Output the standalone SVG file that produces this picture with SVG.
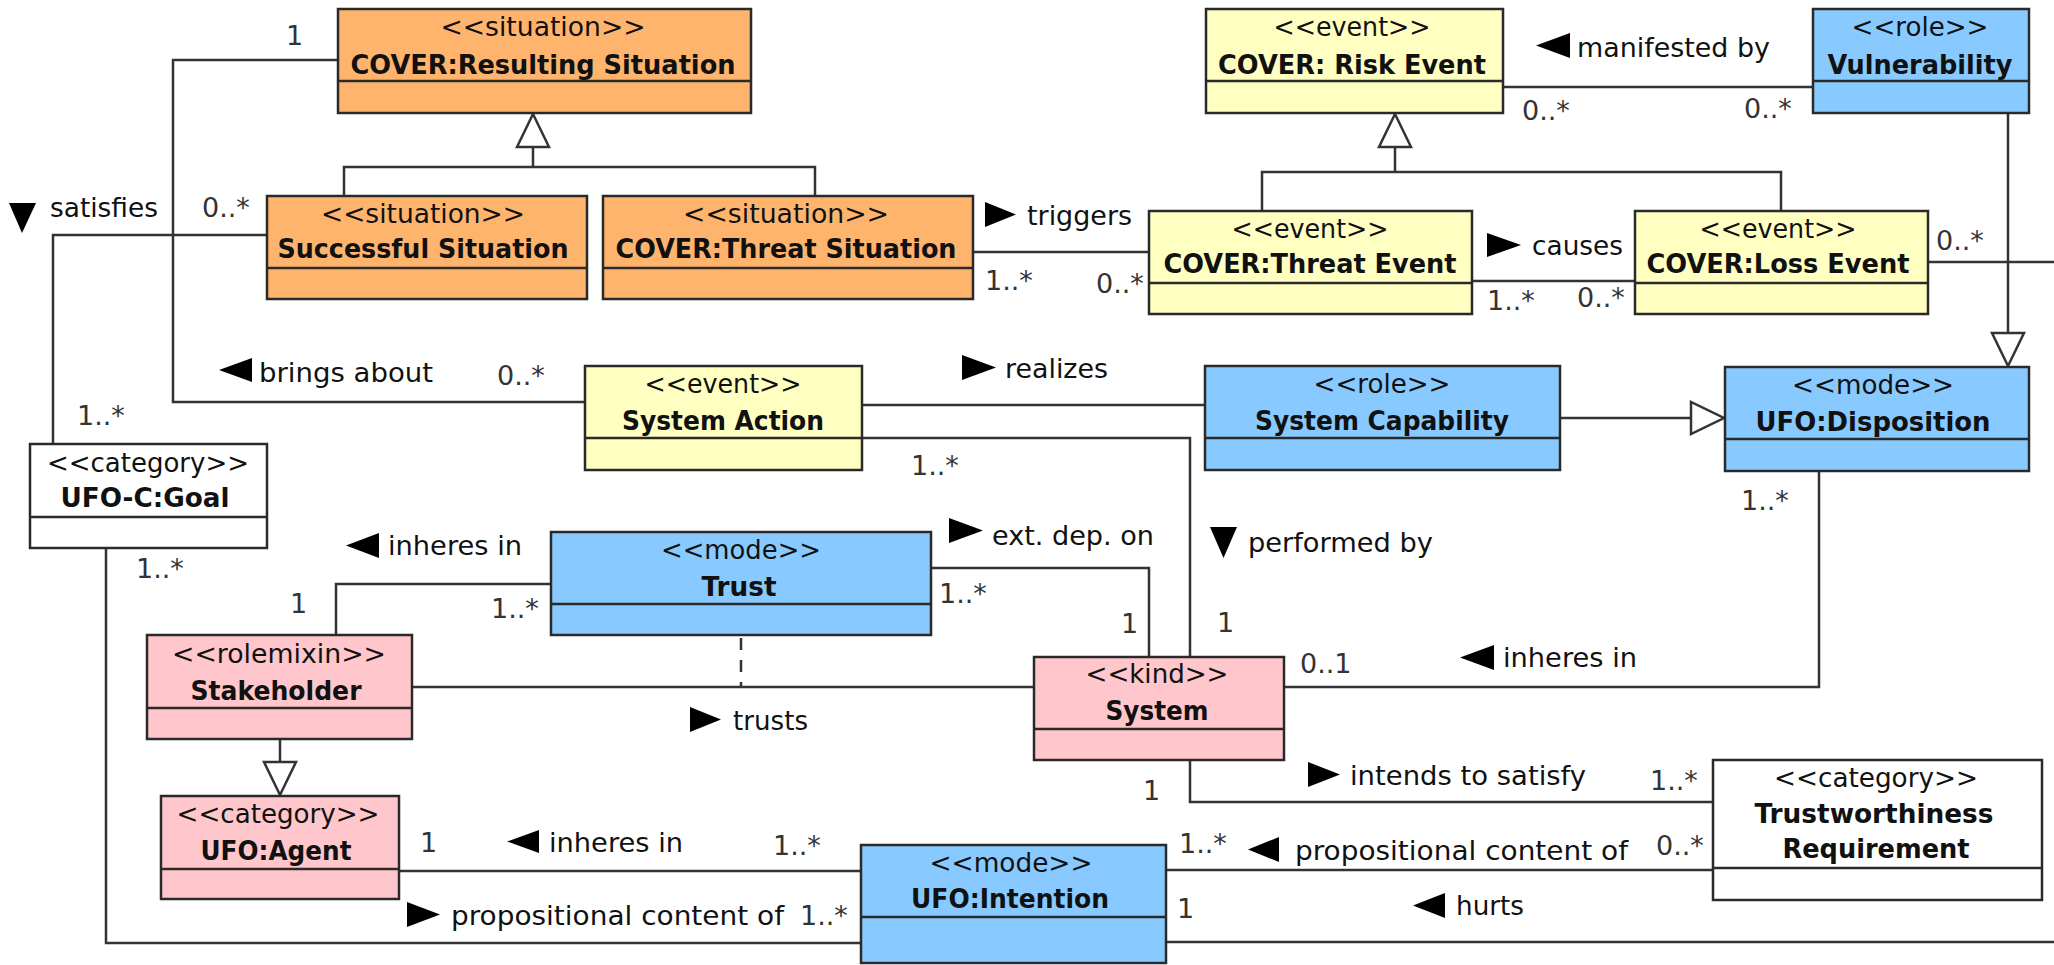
<svg xmlns="http://www.w3.org/2000/svg" width="2054" height="965" viewBox="0 0 2054 965">
<style>
text{font-family:"DejaVu Sans","Liberation Sans",sans-serif;font-size:27px;fill:#111}
.st{text-anchor:middle;font-size:26px}
.nm{text-anchor:middle;font-weight:bold;font-size:26px}
.m{fill:#333;font-size:27px}
.box{stroke:#2a2a2a;stroke-width:2.5}
.or{fill:#FFB46E}.ye{fill:#FFFFC2}.bl{fill:#88CAFF}.pk{fill:#FFC6CB}.wh{fill:#fff}
.dv{stroke:#2a2a2a;stroke-width:2.5}
#connectors polyline,#connectors line{fill:none;stroke:#333;stroke-width:2.5}
.tri{fill:#fff;stroke:#333;stroke-width:2.5}
.dir{fill:#000}
</style>
<rect width="2054" height="965" fill="#fff"/>

<g id="connectors">
<polyline points="338,60 173,60 173,402 585,402"/>
<polyline points="267,235 53,235 53,444"/>
<line x1="533" y1="147" x2="533" y2="167"/>
<polyline points="344,196 344,167 815,167 815,196"/>
<polygon class="tri" points="533,114 517,147 549,147"/>
<line x1="973" y1="252" x2="1149" y2="252"/>
<line x1="1395" y1="147" x2="1395" y2="172"/>
<polyline points="1262,211 1262,172 1781,172 1781,211"/>
<polygon class="tri" points="1395,114 1379,147 1411,147"/>
<line x1="1503" y1="87" x2="1813" y2="87"/>
<line x1="1472" y1="281" x2="1635" y2="281"/>
<line x1="1928" y1="262" x2="2054" y2="262"/>
<line x1="2008" y1="113" x2="2008" y2="333"/>
<polygon class="tri" points="1992,333 2024,333 2008,366"/>
<line x1="862" y1="405" x2="1205" y2="405"/>
<polyline points="862,438 1190,438 1190,657"/>
<line x1="1560" y1="418" x2="1691" y2="418"/>
<polygon class="tri" points="1691,402 1691,434 1724,418"/>
<polyline points="1819,471 1819,687 1284,687"/>
<polyline points="551,584 336,584 336,635"/>
<polyline points="931,568 1149,568 1149,657"/>
<line x1="412" y1="687" x2="1034" y2="687"/>
<line x1="741" y1="638" x2="741" y2="687" style="stroke-dasharray:12 10"/>
<line x1="280" y1="739" x2="280" y2="762"/>
<polygon class="tri" points="264,762 296,762 280,795"/>
<polyline points="1190,760 1190,802 1713,802"/>
<line x1="399" y1="871" x2="861" y2="871"/>
<polyline points="106,548 106,943 861,943"/>
<line x1="1166" y1="870" x2="1713" y2="870"/>
<line x1="1166" y1="942" x2="2054" y2="942"/>
</g>

<g id="labels">
<polygon class="dir" points="9,203 36,203 22,233"/><text x="50" y="217" textLength="108" lengthAdjust="spacingAndGlyphs">satisfies</text>
<polygon class="dir" points="985,202 985,227 1016,214.5"/><text x="1027" y="225" textLength="105" lengthAdjust="spacingAndGlyphs">triggers</text>
<polygon class="dir" points="1487,233 1487,257 1521,245"/><text x="1532" y="255" textLength="91" lengthAdjust="spacingAndGlyphs">causes</text>
<polygon class="dir" points="1570,33 1570,58 1536,45.5"/><text x="1577" y="57" textLength="193" lengthAdjust="spacingAndGlyphs">manifested by</text>
<polygon class="dir" points="252,358 252,382 219,370"/><text x="259" y="382" textLength="174" lengthAdjust="spacingAndGlyphs">brings about</text>
<polygon class="dir" points="962,355 962,380 996,367.5"/><text x="1005" y="378" textLength="103" lengthAdjust="spacingAndGlyphs">realizes</text>
<polygon class="dir" points="1210,527 1237,527 1223.5,558"/><text x="1248" y="552" textLength="185" lengthAdjust="spacingAndGlyphs">performed by</text>
<polygon class="dir" points="379,533 379,558 346,545.5"/><text x="388" y="555" textLength="134" lengthAdjust="spacingAndGlyphs">inheres in</text>
<polygon class="dir" points="949,518 949,543 983,530.5"/><text x="992" y="545" textLength="162" lengthAdjust="spacingAndGlyphs">ext. dep. on</text>
<polygon class="dir" points="690,707 690,732 721,719.5"/><text x="733" y="730" textLength="75" lengthAdjust="spacingAndGlyphs">trusts</text>
<polygon class="dir" points="1494,645 1494,670 1460,657.5"/><text x="1503" y="667" textLength="134" lengthAdjust="spacingAndGlyphs">inheres in</text>
<polygon class="dir" points="1308,762 1308,787 1340,774.5"/><text x="1350" y="785" textLength="236" lengthAdjust="spacingAndGlyphs">intends to satisfy</text>
<polygon class="dir" points="539,830 539,853 507,841.5"/><text x="549" y="852" textLength="134" lengthAdjust="spacingAndGlyphs">inheres in</text>
<polygon class="dir" points="407,902 407,927 440,914.5"/><text x="451" y="925" textLength="333" lengthAdjust="spacingAndGlyphs">propositional content of</text>
<polygon class="dir" points="1279,837 1279,862 1248,849.5"/><text x="1295" y="860" textLength="333" lengthAdjust="spacingAndGlyphs">propositional content of</text>
<polygon class="dir" points="1445,893 1445,918 1413,905.5"/><text x="1456" y="915" textLength="68" lengthAdjust="spacingAndGlyphs">hurts</text>

<text class="m" x="286" y="45">1</text>
<text class="m" x="202" y="217">0..*</text>
<text class="m" x="497" y="385">0..*</text>
<text class="m" x="77" y="425">1..*</text>
<text class="m" x="136" y="578">1..*</text>
<text class="m" x="985" y="290">1..*</text>
<text class="m" x="1096" y="293">0..*</text>
<text class="m" x="1487" y="310">1..*</text>
<text class="m" x="1577" y="307">0..*</text>
<text class="m" x="1522" y="120">0..*</text>
<text class="m" x="1744" y="118">0..*</text>
<text class="m" x="1936" y="250">0..*</text>
<text class="m" x="911" y="475">1..*</text>
<text class="m" x="1217" y="632">1</text>
<text class="m" x="939" y="603">1..*</text>
<text class="m" x="1121" y="633">1</text>
<text class="m" x="290" y="613">1</text>
<text class="m" x="491" y="618">1..*</text>
<text class="m" x="1300" y="673">0..1</text>
<text class="m" x="1741" y="510">1..*</text>
<text class="m" x="1143" y="800">1</text>
<text class="m" x="1650" y="790">1..*</text>
<text class="m" x="1656" y="855">0..*</text>
<text class="m" x="1179" y="853">1..*</text>
<text class="m" x="1177" y="918">1</text>
<text class="m" x="420" y="852">1</text>
<text class="m" x="773" y="855">1..*</text>
<text class="m" x="800" y="925">1..*</text>
</g>

<g id="resulting-situation">
<rect class="box or" x="338" y="9" width="413" height="104"/><line class="dv" x1="338" y1="81" x2="751" y2="81"/>
<text class="st" x="543" y="36" textLength="205" lengthAdjust="spacingAndGlyphs">&lt;&lt;situation&gt;&gt;</text><text class="nm" x="543" y="74" textLength="385" lengthAdjust="spacingAndGlyphs">COVER:Resulting Situation</text>
</g>
<g id="successful-situation">
<rect class="box or" x="267" y="196" width="320" height="103"/><line class="dv" x1="267" y1="268" x2="587" y2="268"/>
<text class="st" x="423" y="223" textLength="204" lengthAdjust="spacingAndGlyphs">&lt;&lt;situation&gt;&gt;</text><text class="nm" x="423" y="258" textLength="291" lengthAdjust="spacingAndGlyphs">Successful Situation</text>
</g>
<g id="threat-situation">
<rect class="box or" x="603" y="196" width="370" height="103"/><line class="dv" x1="603" y1="268" x2="973" y2="268"/>
<text class="st" x="786" y="223" textLength="206" lengthAdjust="spacingAndGlyphs">&lt;&lt;situation&gt;&gt;</text><text class="nm" x="786" y="258" textLength="341" lengthAdjust="spacingAndGlyphs">COVER:Threat Situation</text>
</g>
<g id="risk-event">
<rect class="box ye" x="1206" y="9" width="297" height="104"/><line class="dv" x1="1206" y1="81" x2="1503" y2="81"/>
<text class="st" x="1352" y="36" textLength="157" lengthAdjust="spacingAndGlyphs">&lt;&lt;event&gt;&gt;</text><text class="nm" x="1352" y="74" textLength="268" lengthAdjust="spacingAndGlyphs">COVER: Risk Event</text>
</g>
<g id="vulnerability">
<rect class="box bl" x="1813" y="9" width="216" height="104"/><line class="dv" x1="1813" y1="81" x2="2029" y2="81"/>
<text class="st" x="1920" y="36" textLength="137" lengthAdjust="spacingAndGlyphs">&lt;&lt;role&gt;&gt;</text><text class="nm" x="1920" y="74" textLength="185" lengthAdjust="spacingAndGlyphs">Vulnerability</text>
</g>
<g id="threat-event">
<rect class="box ye" x="1149" y="211" width="323" height="103"/><line class="dv" x1="1149" y1="283" x2="1472" y2="283"/>
<text class="st" x="1310" y="238" textLength="157" lengthAdjust="spacingAndGlyphs">&lt;&lt;event&gt;&gt;</text><text class="nm" x="1310" y="273" textLength="293" lengthAdjust="spacingAndGlyphs">COVER:Threat Event</text>
</g>
<g id="loss-event">
<rect class="box ye" x="1635" y="211" width="293" height="103"/><line class="dv" x1="1635" y1="283" x2="1928" y2="283"/>
<text class="st" x="1778" y="238" textLength="157" lengthAdjust="spacingAndGlyphs">&lt;&lt;event&gt;&gt;</text><text class="nm" x="1778" y="273" textLength="263" lengthAdjust="spacingAndGlyphs">COVER:Loss Event</text>
</g>
<g id="system-action">
<rect class="box ye" x="585" y="366" width="277" height="104"/><line class="dv" x1="585" y1="438" x2="862" y2="438"/>
<text class="st" x="723" y="393" textLength="157" lengthAdjust="spacingAndGlyphs">&lt;&lt;event&gt;&gt;</text><text class="nm" x="723" y="430" textLength="202" lengthAdjust="spacingAndGlyphs">System Action</text>
</g>
<g id="system-capability">
<rect class="box bl" x="1205" y="366" width="355" height="104"/><line class="dv" x1="1205" y1="438" x2="1560" y2="438"/>
<text class="st" x="1382" y="393" textLength="137" lengthAdjust="spacingAndGlyphs">&lt;&lt;role&gt;&gt;</text><text class="nm" x="1382" y="430" textLength="254" lengthAdjust="spacingAndGlyphs">System Capability</text>
</g>
<g id="disposition">
<rect class="box bl" x="1725" y="367" width="304" height="104"/><line class="dv" x1="1725" y1="439" x2="2029" y2="439"/>
<text class="st" x="1873" y="394" textLength="162" lengthAdjust="spacingAndGlyphs">&lt;&lt;mode&gt;&gt;</text><text class="nm" x="1873" y="431" textLength="235" lengthAdjust="spacingAndGlyphs">UFO:Disposition</text>
</g>
<g id="goal">
<rect class="box wh" x="30" y="444" width="237" height="104"/><line class="dv" x1="30" y1="517" x2="267" y2="517"/>
<text class="st" x="148" y="472" textLength="202" lengthAdjust="spacingAndGlyphs">&lt;&lt;category&gt;&gt;</text><text class="nm" x="145" y="507" textLength="169" lengthAdjust="spacingAndGlyphs">UFO-C:Goal</text>
</g>
<g id="trust">
<rect class="box bl" x="551" y="532" width="380" height="103"/><line class="dv" x1="551" y1="604" x2="931" y2="604"/>
<text class="st" x="741" y="559" textLength="160" lengthAdjust="spacingAndGlyphs">&lt;&lt;mode&gt;&gt;</text><text class="nm" x="739" y="596" textLength="75" lengthAdjust="spacingAndGlyphs">Trust</text>
</g>
<g id="stakeholder">
<rect class="box pk" x="147" y="635" width="265" height="104"/><line class="dv" x1="147" y1="708" x2="412" y2="708"/>
<text class="st" x="279" y="663" textLength="214" lengthAdjust="spacingAndGlyphs">&lt;&lt;rolemixin&gt;&gt;</text><text class="nm" x="276" y="700" textLength="171" lengthAdjust="spacingAndGlyphs">Stakeholder</text>
</g>
<g id="system">
<rect class="box pk" x="1034" y="657" width="250" height="103"/><line class="dv" x1="1034" y1="729" x2="1284" y2="729"/>
<text class="st" x="1157" y="683" textLength="143" lengthAdjust="spacingAndGlyphs">&lt;&lt;kind&gt;&gt;</text><text class="nm" x="1157" y="720" textLength="103" lengthAdjust="spacingAndGlyphs">System</text>
</g>
<g id="agent">
<rect class="box pk" x="161" y="796" width="238" height="103"/><line class="dv" x1="161" y1="869" x2="399" y2="869"/>
<text class="st" x="278" y="823" textLength="203" lengthAdjust="spacingAndGlyphs">&lt;&lt;category&gt;&gt;</text><text class="nm" x="276" y="860" textLength="151" lengthAdjust="spacingAndGlyphs">UFO:Agent</text>
</g>
<g id="trustworthiness-requirement">
<rect class="box wh" x="1713" y="760" width="329" height="140"/><line class="dv" x1="1713" y1="868" x2="2042" y2="868"/>
<text class="st" x="1876" y="787" textLength="204" lengthAdjust="spacingAndGlyphs">&lt;&lt;category&gt;&gt;</text><text class="nm" x="1874" y="823" textLength="239" lengthAdjust="spacingAndGlyphs">Trustworthiness</text><text class="nm" x="1876" y="858" textLength="187" lengthAdjust="spacingAndGlyphs">Requirement</text>
</g>
<g id="intention">
<rect class="box bl" x="861" y="845" width="305" height="118"/><line class="dv" x1="861" y1="917" x2="1166" y2="917"/>
<text class="st" x="1011" y="872" textLength="163" lengthAdjust="spacingAndGlyphs">&lt;&lt;mode&gt;&gt;</text><text class="nm" x="1010" y="908" textLength="198" lengthAdjust="spacingAndGlyphs">UFO:Intention</text>
</g>
</svg>
